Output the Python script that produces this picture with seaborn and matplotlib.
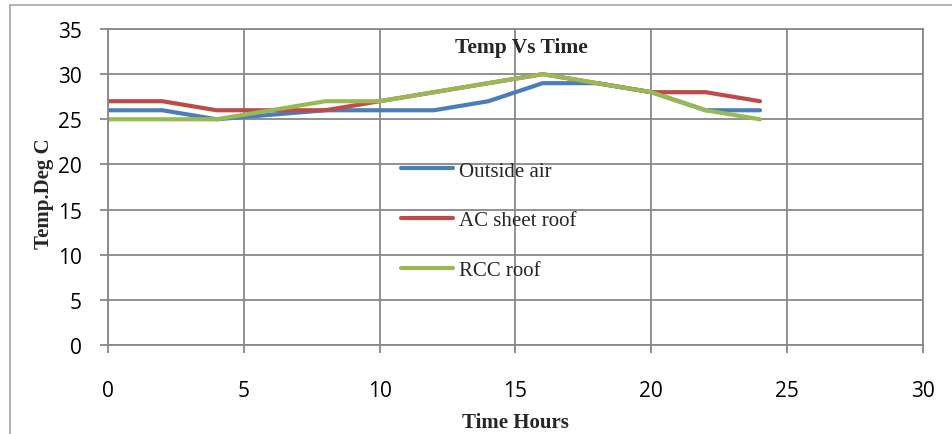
import matplotlib
matplotlib.use("Agg")
import matplotlib.pyplot as plt
from matplotlib.lines import Line2D
import seaborn as sns
import pandas as pd

hours = [0, 2, 4, 6, 8, 10, 12, 14, 16, 18, 20, 22, 24]
outside_air = [26, 26, 25, 25.5, 26, 26, 26, 27, 29, 29, 28, 26, 26]
ac_sheet_roof = [27, 27, 26, 26, 26, 27, 28, 29, 30, 29, 28, 28, 27]
rcc_roof = [25, 25, 25, 26, 27, 27, 28, 29, 30, 29, 28, 26, 25]
series_names = ["Outside air", "AC sheet roof", "RCC roof"]
x_ticks = [0, 5, 10, 15, 20, 25, 30]
y_ticks = [0, 5, 10, 15, 20, 25, 30, 35]

colors = ["#4a7ebb", "#be4b48", "#98b954"]

sns.set_style("white")
plt.rcParams['font.family'] = ['Open Sans', 'DejaVu Sans']

W, H = 953, 435
fig = plt.figure(figsize=(W / 100, H / 100), dpi=100)
ax = fig.add_axes([108 / W, (H - 346) / H, 815 / W, 316 / H])

df = pd.DataFrame({
    "hours": hours * 3,
    "temp": outside_air + ac_sheet_roof + rcc_roof,
    "series": [series_names[0]] * len(hours) + [series_names[1]] * len(hours) + [series_names[2]] * len(hours),
})
sns.lineplot(data=df, x="hours", y="temp", hue="series", palette=colors,
             linewidth=3, ax=ax, legend=False, sort=False)
for l in ax.lines:
    l.set_solid_joinstyle("round")
    l.set_solid_capstyle("round")

grid_c = "#888888"
ax.set_xlim(0, 30)
ax.set_ylim(0, 35)
ax.set_xticks(x_ticks)
ax.set_yticks(y_ticks)
ax.grid(True, color=grid_c, linewidth=1.3)
ax.set_axisbelow(True)
for s in ax.spines.values():
    s.set_color(grid_c)
    s.set_linewidth(1.3)
ax.tick_params(axis="both", direction="out", length=6, width=1.3, color=grid_c,
               labelsize=15, labelcolor="black")
ax.tick_params(axis="y", pad=13)
ax.tick_params(axis="x", pad=19)
ax.tick_params(bottom=True, left=True)

serif = ['Liberation Serif', 'DejaVu Serif']
ax.set_xlabel("Time Hours", family=serif, fontweight="bold", fontsize=15)
ax.set_ylabel("Temp.Deg C", family=serif, fontweight="bold", fontsize=15)
ax.xaxis.set_label_coords((515 - 108) / 815, -(413 - 346) / 316)
ax.yaxis.set_label_coords((54 - 108) / 815, (346 - 194) / 316)

ax.text((521 - 108) / 815, (346 - 48) / 316, "Temp Vs Time", transform=ax.transAxes,
        family=serif, fontweight="bold", fontsize=15.5, ha="center", va="center")

handles = [Line2D([], [], color=c, linewidth=3) for c in colors]
leg = ax.legend(handles, series_names, loc="upper left",
                bbox_to_anchor=(401 / W, 1 - 162 / H), bbox_transform=fig.transFigure,
                frameon=False, prop={"family": serif, "size": 15},
                handlelength=2.5, handletextpad=0.3, labelspacing=1.45,
                borderpad=0, borderaxespad=0)

border_c = "#a6a6a6"
fig.add_artist(Line2D([10 / W, 1], [1 - 6 / H, 1 - 6 / H], color=border_c, linewidth=1.2,
                      transform=fig.transFigure))
fig.add_artist(Line2D([10 / W, 10 / W], [0, 1 - 6 / H], color=border_c, linewidth=1.2,
                      transform=fig.transFigure))

fig.savefig("out.png", dpi=100)
